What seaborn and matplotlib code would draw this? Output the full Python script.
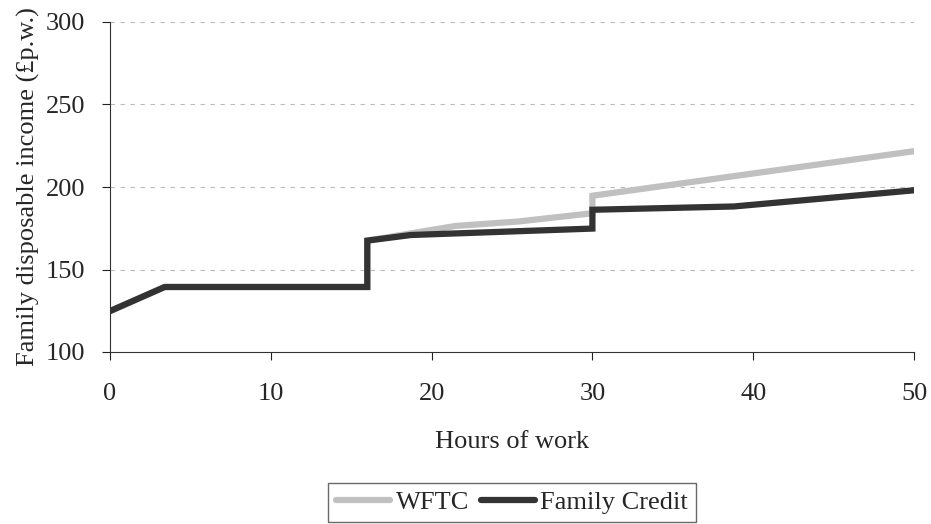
import matplotlib
matplotlib.use("Agg")
import matplotlib.pyplot as plt
import seaborn as sns
import pandas as pd

# Hours of work and family disposable income (£ per week)
fc_hours = [0, 3.4, 16, 16, 18.7, 30, 30, 38.8, 50]
fc_income = [124.8, 139.4, 139.4, 167.5, 170.9, 174.8, 186.2, 188.2, 198.0]

wftc_hours = [0, 3.4, 16, 16, 21.5, 25.4, 30, 30, 50]
wftc_income = [124.8, 139.4, 139.4, 167.5, 176.4, 179.1, 184.1, 194.7, 221.7]

x_ticks = [0, 10, 20, 30, 40, 50]
y_ticks = [100, 150, 200, 250, 300]

sns.set_theme(style="white")
plt.rcParams['font.family'] = ['Liberation Serif', 'DejaVu Serif']

wftc = pd.DataFrame({"hours": wftc_hours, "income": wftc_income})
fc = pd.DataFrame({"hours": fc_hours, "income": fc_income})

fig = plt.figure(figsize=(9.31, 5.24), dpi=100)
ax = fig.add_axes([110 / 931, 1 - 352 / 524, 804 / 931, 330 / 524])

for y in y_ticks[1:]:
    ax.axhline(y, color="#bbbbbb", lw=0.8, ls=(0, (4, 5)), zorder=0)

# estimator=None so the vertical steps at 16 and 30 hours are kept
sns.lineplot(data=wftc, x="hours", y="income", sort=False, estimator=None,
             ax=ax, color="#c0c0c0", lw=4.5, label="WFTC",
             solid_capstyle="round", solid_joinstyle="miter")
sns.lineplot(data=fc, x="hours", y="income", sort=False, estimator=None,
             ax=ax, color="#333333", lw=4.5, label="Family Credit",
             solid_capstyle="round", solid_joinstyle="miter")

ax.set_xlim(0, 50)
ax.set_ylim(100, 300)
ax.set_xticks(x_ticks)
ax.set_yticks(y_ticks)
ax.tick_params(axis="both", labelsize=19, direction="out", length=6,
               width=0.8, color="#222222", left=True, bottom=True)
ax.tick_params(axis="x", pad=16)
ax.tick_params(axis="y", pad=12)
ax.set_xlabel("Hours of work", fontsize=19, labelpad=19)
ax.set_ylabel("Family disposable income (£p.w.)", fontsize=19, labelpad=4)

for s in ["top", "right"]:
    ax.spines[s].set_visible(False)
for s in ["left", "bottom"]:
    ax.spines[s].set_color("#333333")
    ax.spines[s].set_linewidth(0.8)

# legend box runs off the bottom edge, as in the original
leg = ax.legend(loc="upper center", bbox_to_anchor=(0.5, -0.397), ncol=2,
                fontsize=19, frameon=True, fancybox=False, edgecolor="#444444",
                handlelength=2.05, handletextpad=0.2, columnspacing=0.45,
                borderpad=0.3, borderaxespad=0)
leg.get_frame().set_linewidth(1.0)

fig.savefig("out.png", dpi=100)
